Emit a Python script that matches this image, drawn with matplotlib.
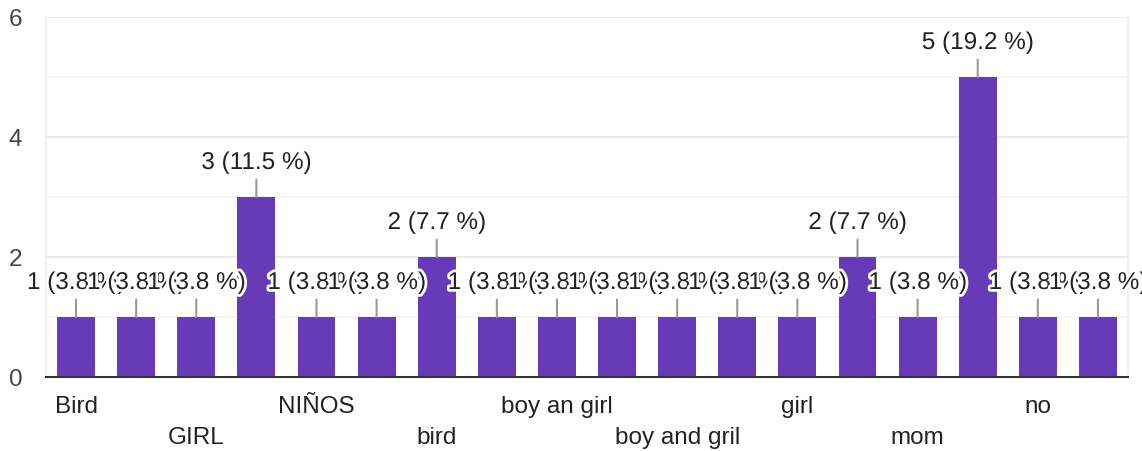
import matplotlib
matplotlib.use("Agg")
import matplotlib.pyplot as plt
import matplotlib.patheffects as pe
import numpy as np

# datos (las categorias ocultas son supuestas)
categorias = ["Bird", "Boy", "GIRL", "Girl", "NIÑOS", "Niña", "bird", "boy",
              "boy an girl", "boy and girl", "boy and gril", "boys", "girl",
              "girls", "mom", "mom and dad", "no", "none"]
valores = [1, 1, 1, 3, 1, 1, 2, 1, 1, 1, 1, 1, 1, 2, 1, 5, 1, 1]
ticks_y = [0, 2, 4, 6]

total = sum(valores)
etiquetas = [f"{v} ({v / total * 100:.1f} %)" for v in valores]

plt.rcParams['font.family'] = ['Liberation Sans', 'DejaVu Sans']
tam = 17.5

fig = plt.figure(figsize=(11.42, 4.51), dpi=100)
ax = fig.add_axes([46 / 1142, 74 / 451, (1128 - 46) / 1142, 360 / 451])

x = np.arange(len(categorias))
ax.bar(x, valores, width=0.63, color="#673ab7", zorder=3)

ax.set_xlim(-0.5, len(categorias) - 0.5)
ax.set_ylim(0, 6)
ax.set_yticks(ticks_y)
ax.set_yticks([1, 3, 5], minor=True)
ax.grid(axis='y', which='major', color='#e8e8e8', lw=1.2, zorder=0)
ax.grid(axis='y', which='minor', color='#f4f4f4', lw=1.2, zorder=0)
ax.tick_params(axis='y', which='both', length=0, labelsize=tam, labelcolor='#444444', pad=17)

# etiquetas del eje x: una si, una no, en dos filas
nombres = []
for i, c in enumerate(categorias):
    if i % 2 == 1:
        nombres.append("")
    elif i % 4 == 0:
        nombres.append(c)
    else:
        nombres.append("\n" + c)
ax.set_xticks(x)
ax.set_xticklabels(nombres, fontsize=tam, color='#222222', linespacing=1.5)
ax.tick_params(axis='x', length=0, pad=14)

for lado in ['top', 'right', 'left']:
    ax.spines[lado].set_color('#eeeeee')
    ax.spines[lado].set_linewidth(1.2)
ax.spines['top'].set_visible(False)
ax.spines['bottom'].set_color('#333333')
ax.spines['bottom'].set_linewidth(1.5)
ax.spines['bottom'].set_zorder(4)

for xi, v, txt in zip(x, valores, etiquetas):
    ax.annotate(txt, xy=(xi, v), xytext=(0, 34 * 0.72), textcoords='offset points',
                ha='center', va='center', fontsize=tam, color='#222222',
                annotation_clip=False, zorder=5,
                path_effects=[pe.withStroke(linewidth=4, foreground='white')],
                arrowprops=dict(arrowstyle='-', color='#999999', lw=1.5,
                                shrinkA=2, shrinkB=0))

fig.savefig("out.png", dpi=100)
